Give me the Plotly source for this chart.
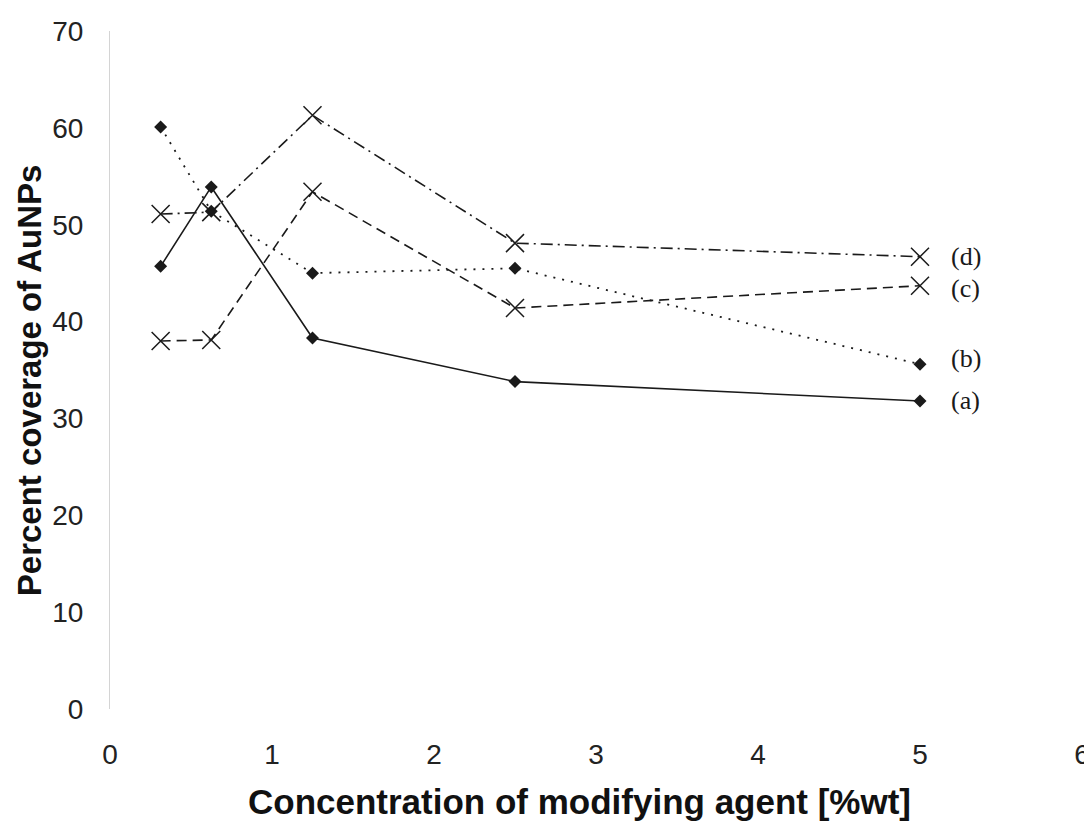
import plotly.graph_objects as go

conc = [0.3125, 0.625, 1.25, 2.5, 5]
series_a = [45.7, 53.9, 38.3, 33.8, 31.8]
series_b = [60.1, 51.4, 45.0, 45.5, 35.6]
series_c = [38.0, 38.1, 53.4, 41.4, 43.7]
series_d = [51.1, 51.3, 61.3, 48.1, 46.7]
labels = ["(a)", "(b)", "(c)", "(d)"]
label_y = [31.9, 36.2, 43.4, 46.7]
x_title = "Concentration of modifying agent [%wt]"
y_title = "Percent coverage of AuNPs"

fig = go.Figure()
ink = "#1a1a1a"
fig.add_trace(go.Scatter(x=conc, y=series_a, mode="lines+markers",
                         line=dict(color=ink, width=1.6, dash="solid"),
                         marker=dict(symbol="diamond", size=10, color=ink)))
fig.add_trace(go.Scatter(x=conc, y=series_b, mode="lines+markers",
                         line=dict(color=ink, width=1.8, dash="2px,7px"),
                         marker=dict(symbol="diamond", size=10, color=ink)))
fig.add_trace(go.Scatter(x=conc, y=series_c, mode="lines+markers",
                         line=dict(color=ink, width=1.6, dash="10px,6px"),
                         marker=dict(symbol="x-thin-open", size=18,
                                     line=dict(color=ink, width=1.5))))
fig.add_trace(go.Scatter(x=conc, y=series_d, mode="lines+markers",
                         line=dict(color=ink, width=1.6, dash="12px,5px,2px,5px"),
                         marker=dict(symbol="x-thin-open", size=18,
                                     line=dict(color=ink, width=1.5))))

for lab, ly in zip(labels, label_y):
    fig.add_annotation(x=5.18, y=ly, text=lab, showarrow=False, xanchor="left",
                       yanchor="middle",
                       font=dict(family="Liberation Serif", size=26, color=ink))

# axis titles as annotations for precise placement
fig.add_annotation(xref="paper", yref="paper", x=0.4835, y=-0.137,
                   text="<b>" + x_title + "</b>", showarrow=False,
                   xanchor="center", yanchor="middle",
                   font=dict(family="Liberation Sans", size=35, color="#111"))
fig.add_annotation(xref="paper", yref="paper", x=-0.0833, y=0.485,
                   text="<b>" + y_title + "</b>", showarrow=False, textangle=-90,
                   xanchor="center", yanchor="middle",
                   font=dict(family="Liberation Sans", size=33, color="#111"))

fig.update_layout(
    width=1084, height=815,
    margin=dict(l=102, r=10, t=23, b=114),
    paper_bgcolor="white", plot_bgcolor="white",
    showlegend=False,
    font=dict(family="Liberation Sans", color="#222"),
)
fig.update_xaxes(range=[0, 6], tickvals=[0, 1, 2, 3, 4, 5, 6],
                 showgrid=False, zeroline=False, showline=False,
                 ticks="", ticklabelstandoff=26, automargin=False,
                 tickfont=dict(size=28, color="#222"))
fig.update_yaxes(range=[0, 70], tickvals=[0, 10, 20, 30, 40, 50, 60, 70],
                 showgrid=False, zeroline=False, showline=True,
                 linecolor="#d4d4d4", linewidth=1,
                 ticks="", ticklabelstandoff=20, automargin=False,
                 tickfont=dict(size=28, color="#222"))

fig.write_html("out.html")
